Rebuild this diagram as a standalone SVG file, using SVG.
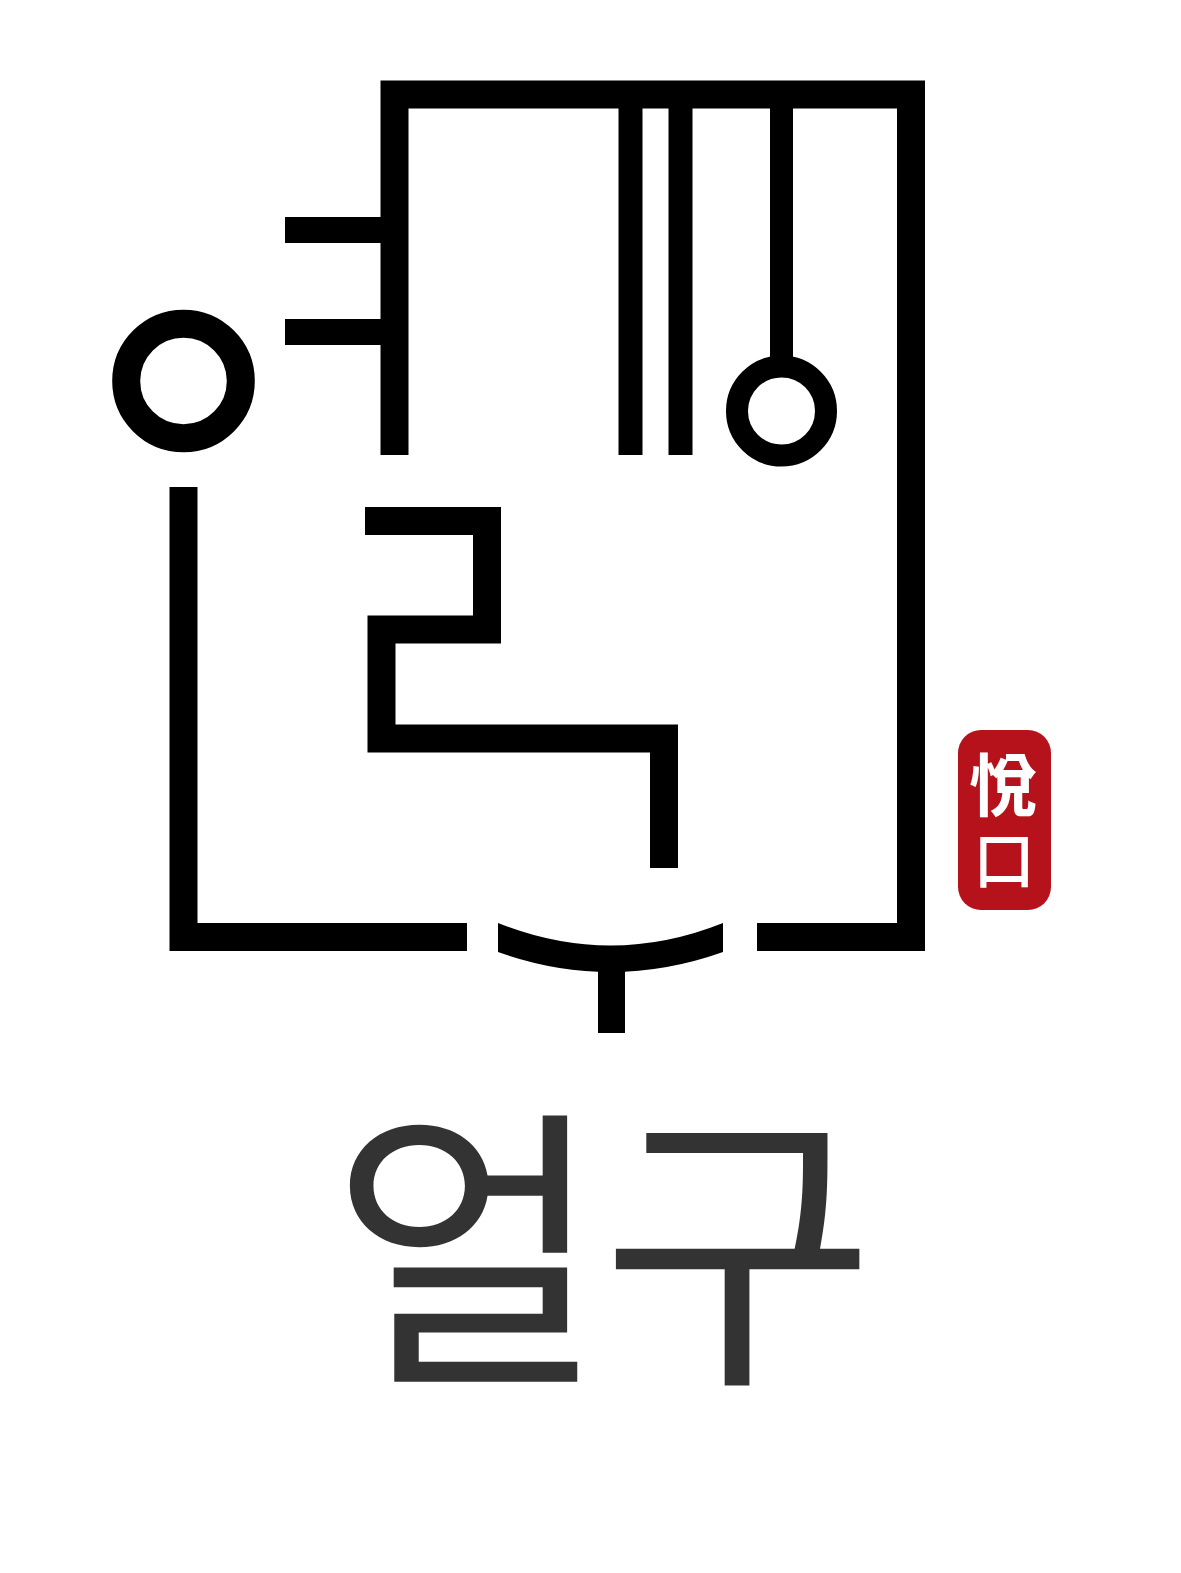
<svg xmlns="http://www.w3.org/2000/svg" width="1181" height="1573" viewBox="0 0 1181 1573">
<style>
.k{fill:none;stroke:#000;stroke-width:28;stroke-linejoin:miter}
.t{stroke-width:24}
.w{font-family:"Noto Sans CJK KR","Noto Sans CJK SC",sans-serif}
</style>
<rect width="1181" height="1573" fill="#fff"/>
<g id="face">
<path class="k" d="M394.5 455V94.5H911V937H757"/>
<path class="k" d="M467 937H183.5V487"/>
<path class="k" style="stroke-width:26" d="M285 230H394M285 332H394"/>
<circle class="k" cx="183.5" cy="381" r="57.3"/>
<path class="k t" d="M630.5 95V455M680.5 95V455"/>
<path class="k" style="stroke-width:23" d="M781.5 95V360"/>
<circle class="k" style="stroke-width:22" cx="781.5" cy="411" r="44.5"/>
<path class="k" d="M365 521H487V629.5H381.5V738.5H664V868"/>
<path d="M498 923Q610.5 968 723 923V952Q610.5 992 498 952Z" fill="#000"/>
<path class="k" style="stroke-width:27" d="M611.5 955V1033"/>
</g>
<g id="seal">
<rect x="958" y="730" width="93" height="180" rx="23" fill="#b5121b"/>
<text class="w" fill="#fff" text-anchor="middle"><tspan x="1003" y="811" font-size="68" font-weight="700">悅</tspan><tspan x="1004" y="884" font-size="62" font-weight="500">口</tspan></text>
</g>
<g id="label">
<text class="w" x="601" y="1362" font-size="298" font-weight="400" letter-spacing="-4" fill="#333" text-anchor="middle">얼구</text>
</g>
</svg>
